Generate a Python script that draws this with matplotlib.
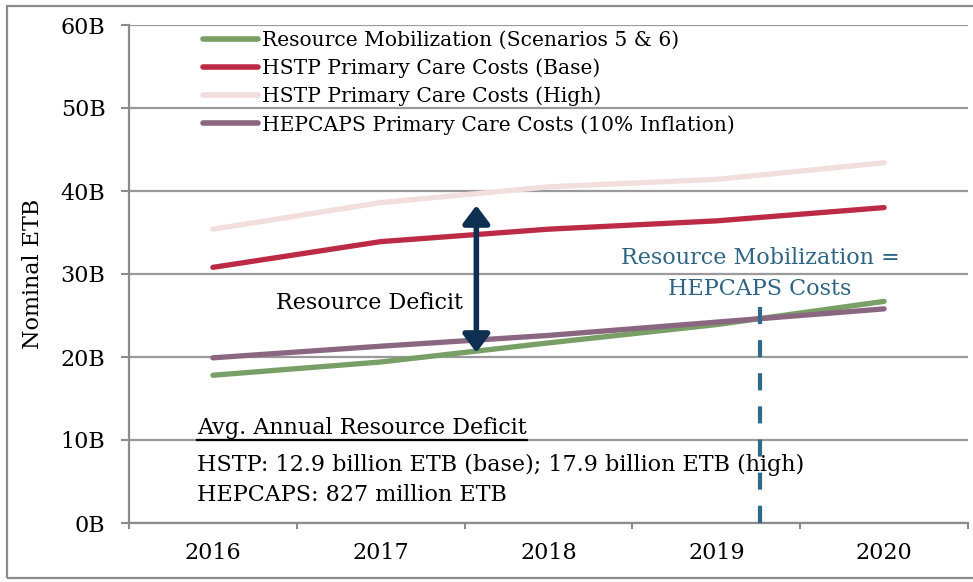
"""Resource mobilization vs. primary care cost projections (nominal ETB)."""

import matplotlib

matplotlib.use("Agg")
import matplotlib.pyplot as plt
from matplotlib.patches import Rectangle, FancyArrowPatch

years = ["2016", "2017", "2018", "2019", "2020"]
resource_mobilization = [17.8, 19.4, 21.7, 23.9, 26.7]
hstp_base = [30.8, 33.9, 35.4, 36.4, 38.0]
hstp_high = [35.4, 38.6, 40.5, 41.4, 43.4]
hepcaps = [19.9, 21.3, 22.6, 24.2, 25.8]

series_labels = [
    "Resource Mobilization (Scenarios 5 & 6)",
    "HSTP Primary Care Costs (Base)",
    "HSTP Primary Care Costs (High)",
    "HEPCAPS Primary Care Costs (10% Inflation)",
]
series_colors = ["#779f66", "#bc2a45", "#f2dedd", "#8a6681"]

deficit_arrow = (1.57, 38.6, 20.2)   # x, top, bottom
crossover_x = 3.26
crossover_top = 26.0

plt.rcParams["font.family"] = ["DejaVu Serif"]

W, H = 973, 582
fig = plt.figure(figsize=(W / 100, H / 100), dpi=100)
ax = fig.add_axes([129 / W, 1 - 523 / H, (968 - 129) / W, (523 - 25) / H])

x = range(len(years))
handles = []
for vals, label, color in zip(
    [resource_mobilization, hstp_base, hstp_high, hepcaps], series_labels, series_colors
):
    (ln,) = ax.plot(x, vals, color=color, lw=3.8, solid_capstyle="round", label=label, zorder=3)
    handles.append(ln)
# purple sits above green like the original
handles[3].set_zorder(4)

ax.set_xlim(-0.5, 4.5)
ax.set_ylim(0, 60)
ax.set_yticks(range(0, 61, 10))
ax.set_yticklabels([f"{v}B" for v in range(0, 61, 10)], fontsize=16)
ax.set_xticks(list(x))
ax.set_xticklabels(years, fontsize=16)
ax.set_xticks([i - 0.5 for i in range(len(years) + 1)], minor=True)
ax.tick_params(axis="x", which="major", length=0, pad=14)
ax.tick_params(axis="x", which="minor", length=4, width=1.5, color="#8c8c8c")
ax.tick_params(axis="y", length=6, width=1.5, color="#8c8c8c", pad=11)
ax.set_ylabel("Nominal ETB", fontsize=16, labelpad=12)

ax.grid(axis="y", color="#9a9a9a", lw=1.6)
ax.set_axisbelow(True)
for side in ["top", "right"]:
    ax.spines[side].set_visible(False)
for side in ["left", "bottom"]:
    ax.spines[side].set_color("#8c8c8c")
    ax.spines[side].set_linewidth(1.6)

leg = ax.legend(
    handles=handles,
    loc="upper left",
    bbox_to_anchor=(203 / W, 1 - 31 / H),
    bbox_transform=fig.transFigure,
    frameon=False,
    fontsize=14.6,
    handlelength=2.7,
    handletextpad=0.2,
    labelspacing=0.42,
    borderpad=0,
    borderaxespad=0,
)
for lh in leg.get_lines():
    lh.set_linewidth(4)

ax_x, ax_top, ax_bot = deficit_arrow
ax.add_patch(
    FancyArrowPatch(
        (ax_x, ax_bot), (ax_x, ax_top),
        arrowstyle="<|-|>,head_length=0.6,head_width=0.45",
        mutation_scale=18, lw=4, color="#0f2f52", zorder=6,
    )
)
ax.text(0.375, 26.5, "Resource Deficit", fontsize=16, ha="left", va="center", zorder=6)

ax.plot([crossover_x, crossover_x], [crossover_top, 0], color="#2f6a8c", lw=3,
        ls=(0, (4.1, 3.85)), clip_on=False, zorder=5)
ax.text(crossover_x, 30.05, "Resource Mobilization =\nHEPCAPS Costs", fontsize=16,
        ha="center", va="center", color="#2f6584", linespacing=1.5, zorder=6)

tx = (197 - 213) / 167.8
ax.text(tx, 11.5, "Avg. Annual Resource Deficit", fontsize=16, ha="left", va="center")
ax.plot([tx, (527 - 213) / 167.8], [10.0, 10.0], color="black", lw=1.6, zorder=4)
ax.text(tx, 7.0, "HSTP: 12.9 billion ETB (base); 17.9 billion ETB (high)", fontsize=16,
        ha="left", va="center")
ax.text(tx, 3.4, "HEPCAPS: 827 million ETB", fontsize=16, ha="left", va="center")

fig.patches.append(
    Rectangle((7 / W, 4 / H), 1.0, 1 - 10 / H, transform=fig.transFigure,
              fill=False, edgecolor="#8c8c8c", lw=1.6)
)

fig.savefig("out.png", dpi=100)
